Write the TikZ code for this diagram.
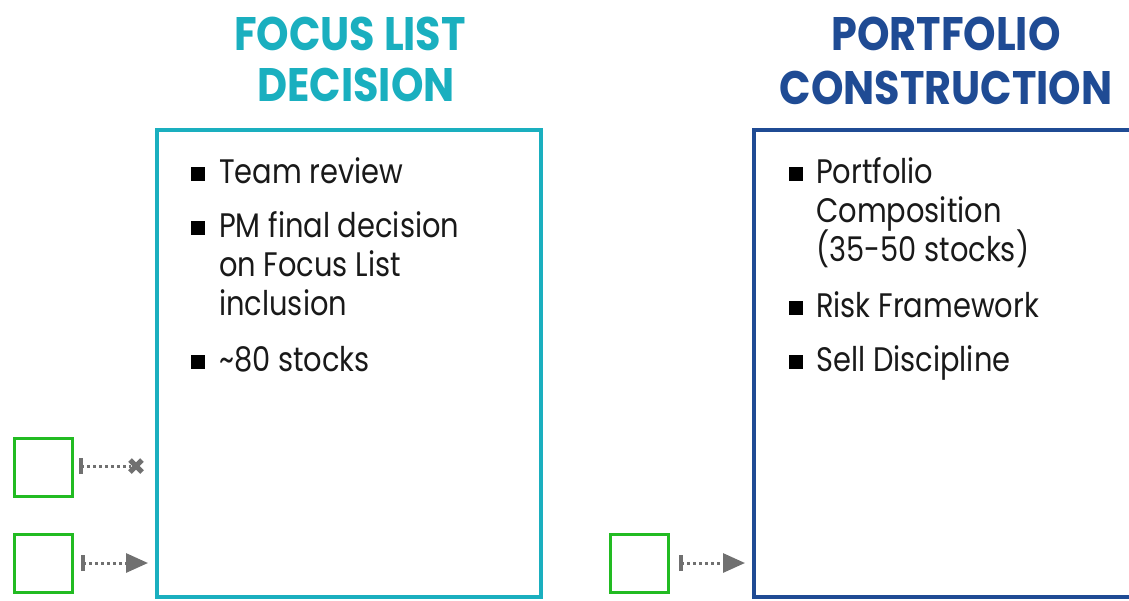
\documentclass[tikz,border=0pt]{standalone}
\usepackage{fontspec}
\setmainfont{Poppins}
\newfontfamily\bodyfont[FakeStretch=0.85]{Poppins}
\newfontfamily\headfont[FakeStretch=0.88]{Poppins}
\usetikzlibrary{arrows.meta}
\definecolor{teal}{HTML}{1AAFBF}
\definecolor{navy}{HTML}{1F4B94}
\definecolor{sqgreen}{HTML}{22BB22}
\definecolor{conn}{HTML}{707070}
\tikzset{
  x=1pt, y=-1pt,
  title/.style={font=\headfont\fontsize{47}{47}\selectfont\bfseries, anchor=base, inner sep=0pt},
  itemtxt/.style={font=\bodyfont\fontsize{34}{36}\selectfont, anchor=base west, inner sep=0pt, text=black!90},
  bul/.style={fill=black, minimum size=14pt, inner sep=0pt},
  gsq/.style={draw=sqgreen, line width=3pt, minimum size=58pt, inner sep=0pt},
  dotline/.style={draw=conn, line width=3pt, dash pattern=on 2.5pt off 3.5pt},
  tick/.style={draw=conn, line width=3.5pt},
  tri/.style={-{Triangle[length=22pt,width=19pt]}},
}
\begin{document}
\begin{tikzpicture}
\useasboundingbox (0,0) rectangle (1129,600);
% titles
\node[title, text=teal] (t1a) at (350,50) {FOCUS LIST};
\node[title, text=teal] (t1b) at (356,101) {DECISION};
\node[title, text=navy] (t2a) at (946,50) {PORTFOLIO};
\node[title, text=navy] (t2b) at (946,104) {CONSTRUCTION};
% boxes
\draw[teal, line width=4pt] (157,130) rectangle (541,597);
\draw[navy, line width=4pt] (754,130) rectangle (1140,597);
% left items
\node[bul] (b1) at (198,174) {};
\node[itemtxt] (l1) at (219,183) {Team review};
\node[bul] (b2) at (198,228) {};
\node[itemtxt] (l2) at (219,237) {PM final decision};
\node[itemtxt] (l3) at (219,276) {on Focus List};
\node[itemtxt] (l4) at (219,315) {inclusion};
\node[bul] (b3) at (198,362) {};
\node[itemtxt] (l5) at (219,371) {\textasciitilde 80 stocks};
% right items
\node[bul] (b4) at (796,174) {};
\node[itemtxt] (r1) at (816,183) {Portfolio};
\node[itemtxt] (r2) at (816,222) {Composition};
\node[itemtxt] (r3) at (816,261) {(35-50 stocks)};
\node[bul] (b5) at (796,308) {};
\node[itemtxt] (r4) at (816,317) {Risk Framework};
\node[bul] (b6) at (796,362) {};
\node[itemtxt] (r5) at (816,371) {Sell Discipline};
% green squares
\node[gsq] (s1) at (43,467) {};
\node[gsq] (s2) at (43,563) {};
\node[gsq] (s3) at (639,563) {};
% connectors
\coordinate (c1s) at (81,466);
\coordinate (c1e) at (136,466);
\coordinate (c2s) at (83,563);
\coordinate (c2e) at (148,563);
\coordinate (c3s) at (681,563);
\coordinate (c3e) at (745,563);
\draw[dotline] (c1s) -- ([xshift=-5pt]c1e);
\draw[tick] ([yshift=-8pt]c1s) -- ([yshift=8pt]c1s);
\draw[conn, line width=5pt] ([shift={(-6,-6)}]c1e) -- ([shift={(6,6)}]c1e)
  ([shift={(-6,6)}]c1e) -- ([shift={(6,-6)}]c1e);
\draw[dotline, tri] (c2s) -- (c2e);
\draw[tick] ([yshift=-8pt]c2s) -- ([yshift=8pt]c2s);
\draw[dotline, tri] (c3s) -- (c3e);
\draw[tick] ([yshift=-8pt]c3s) -- ([yshift=8pt]c3s);
\end{tikzpicture}
\end{document}
